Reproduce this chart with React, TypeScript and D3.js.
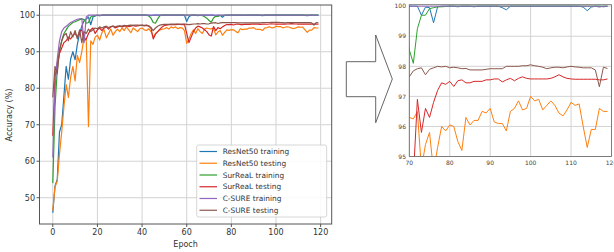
import React, { useRef, useEffect } from 'react';
import * as d3 from 'd3';

const epochs = d3.range(0, 120);

// accuracy per epoch
const resnetTrain = [
  45.9, 53.2, 55, 68, 70, 78, 86, 82.5, 88, 90,
  87.8, 92, 95, 97, 98.5, 99, 99.5, 97.4, 99.5, 99.8,
  100, 99.9, 100, 100, 100, 100, 100, 100, 100, 100,
  100, 100, 100, 100, 100, 100, 100, 100, 100, 100,
  100, 100, 100, 100, 99.9, 100, 100, 100, 100, 100,
  100, 100, 100, 100, 100, 100, 100, 100, 100, 100,
  98.3, 99.6, 100, 100, 100, 99.9, 100, 100, 100, 100,
  100, 100, 100, 99.7, 99.97, 99.95, 99.45, 99.98, 100, 100,
  100, 100, 99.98, 100, 100, 100, 99.98, 100, 100, 100,
  100, 100, 100, 99.95, 99.88, 100, 100, 100, 100, 100,
  100, 100, 100, 100, 100, 100, 100, 100, 100, 100,
  100, 100, 100, 99.97, 99.85, 99.97, 100, 100, 99.98, 100,
];
const resnetTest = [
  46.5, 53, 54.5, 62, 68, 75, 81, 77.5, 83, 86,
  82, 89, 87, 90, 94, 93.5, 69.5, 93, 92, 94,
  94.5, 93.2, 95.2, 96, 93.8, 95, 96.2, 94.5, 95.5, 96.2,
  95.5, 96.5, 95.8, 96.8, 96, 95.2, 96.5, 96, 95.5, 96.3,
  96.5, 96, 95.8, 96.3, 95.5, 94, 95, 95.5, 96, 96.2,
  96.3, 96.6, 96.2, 96.8, 96.5, 96.8, 96.3, 96.6, 96.5, 95.8,
  92.3, 93.5, 95, 96, 95, 96.3, 95.5, 95, 96.2, 96.5,
  96.3, 96.25, 96.5, 94.6, 95.4, 95.8, 94.5, 95.3, 96.0, 95.85,
  96.05, 96.0, 95.5, 95.2, 96.3, 96.05, 96.2, 96.2, 96.5, 96.45,
  96.6, 96.15, 96.1, 96.1, 95.85, 96.5, 96.6, 96.85, 96.55, 96.6,
  97.0, 96.85, 96.9, 96.55, 96.7, 96.85, 96.7, 96.45, 96.35, 96.55,
  96.8, 96.7, 96.75, 96.0, 95.3, 95.9, 95.9, 96.6, 96.5, 96.5,
];
const surrealTrain = [
  54, 75, 85, 90, 93, 95, 96, 97, 97.5, 98,
  98.2, 98.5, 98.8, 99, 98.8, 97.8, 98, 99.5, 99.8, 99.9,
  100, 99.9, 100, 100, 100, 100, 100, 100, 100, 100,
  100, 100, 100, 100, 100, 100, 100, 100, 100, 100,
  100, 100, 100, 99.8, 99.2, 98, 97.8, 99, 99.9, 100,
  100, 100, 100, 100, 100, 100, 100, 100, 100, 100,
  100, 100, 100, 100, 100, 100, 100, 99.9, 99.6, 99.2,
  98.55, 98.1, 99.25, 99.7, 99.7, 99.92, 99.95, 99.98, 99.98, 99.99,
  100, 100, 100, 100, 100, 100, 100, 100, 100, 100,
  100, 100, 100, 100, 100, 100, 100, 100, 100, 100,
  100, 100, 100, 100, 100, 100, 100, 100, 100, 100,
  100, 100, 100, 100, 100, 100, 100, 100, 100, 100,
];
const surrealTest = [
  67, 83, 87, 89.5, 91, 92.5, 93, 94, 93.5, 94.5,
  95, 94, 95.5, 96, 93, 93.5, 95, 96, 96.5, 95,
  96, 96.5, 95.8, 96.5, 96.8, 96.2, 96.8, 97, 96.5, 96.8,
  97, 96.8, 97, 97.1, 96.9, 97, 97.2, 97, 97.1, 97.2,
  97.2, 97.1, 97.2, 97, 96.5, 93.5, 94.8, 95.5, 96.2, 96.8,
  97.2, 97.3, 97.4, 97.4, 97.5, 97.4, 97.5, 97.5, 97.4, 97.5,
  95, 92.5, 94, 95.5, 96.5, 97, 96.8, 96.5, 96, 95.5,
  94.6, 94.3, 96.9, 95.8, 96.6, 96.3, 96.8, 97.2, 97.45, 97.4,
  97.5, 97.33, 97.52, 97.55, 97.45, 97.45, 97.5, 97.5, 97.5, 97.55,
  97.55, 97.58, 97.58, 97.48, 97.55, 97.6, 97.52, 97.6, 97.65, 97.6,
  97.58, 97.58, 97.58, 97.58, 97.58, 97.6, 97.65, 97.72, 97.65, 97.6,
  97.58, 97.57, 97.57, 97.57, 97.57, 97.57, 97.57, 97.55, 97.55, 97.58,
];
const csureTrain = [
  61, 80, 88, 93, 95.5, 96.5, 97, 97.5, 98, 98.3,
  98.6, 98.9, 99, 99.1, 92.5, 99.5, 100, 100, 100, 100,
  100, 100, 100, 100, 100, 100, 100, 100, 100, 100,
  100, 100, 100, 100, 100, 100, 100, 100, 100, 100,
  100, 100, 100, 100, 100, 100, 100, 100, 100, 100,
  100, 100, 100, 100, 100, 100, 100, 100, 100, 100,
  100, 100, 100, 100, 100, 100, 100, 100, 100, 100,
  100, 100, 100, 100, 100, 100, 100, 100, 100, 100,
  100, 100, 100, 100, 100, 100, 100, 100, 100, 100,
  100, 100, 100, 100, 100, 100, 100, 100, 100, 100,
  100, 100, 100, 100, 100, 100, 100, 100, 100, 100,
  100, 100, 100, 100, 100, 100, 100, 99.97, 100, 100,
];
const csureTest = [
  77.5, 86, 84, 90.5, 93, 94.5, 95, 93, 95.5, 94,
  95.8, 93.5, 96, 92.5, 95.5, 95, 96.2, 95.5, 96, 96.5,
  96.3, 96.8, 96.5, 96.8, 97, 96.6, 96.9, 97, 96.8, 97,
  97.1, 97, 97.2, 97.1, 97.2, 97.3, 97.2, 97.3, 97.3, 97.2,
  97.3, 97.2, 97.3, 97.1, 96.6, 95.8, 96.5, 97, 97.3, 97.4,
  97.5, 97.5, 97.5, 97.6, 97.5, 97.6, 97.6, 97.5, 97.6, 97.6,
  97.5, 97.4, 97.5, 97.6, 97.6, 97.7, 97.6, 97.7, 97.7, 97.6,
  97.65, 97.85, 97.92, 97.95, 97.72, 97.9, 97.95, 98.0, 97.98, 98.0,
  97.95, 97.97, 97.95, 97.92, 97.93, 97.88, 97.88, 97.88, 97.88, 97.9,
  97.92, 97.92, 97.92, 97.92, 98.0, 98.0, 98.0, 98.0, 98.02, 98.02,
  98.05, 98.02, 98.0, 97.97, 97.92, 97.95, 97.97, 97.97, 97.95, 97.98,
  98.0, 97.98, 97.97, 97.95, 97.95, 97.95, 97.88, 97.32, 97.97, 97.93,
];

const seriesNames = [
  'ResNet50 training', 'ResNet50 testing', 'SurReaL training',
  'SurReaL testing', 'C-SURE training', 'C-SURE testing',
];
const seriesValues = [resnetTrain, resnetTest, surrealTrain, surrealTest, csureTrain, csureTest];
const colors = ['#1f77b4', '#ff7f0e', '#2ca02c', '#d62728', '#9467bd', '#8c564b'];

const mainXTicks = [0, 20, 40, 60, 80, 100, 120];
const mainYTicks = [50, 60, 70, 80, 90, 100];
const zoomXTicks = [70, 80, 90, 100, 110, 120];
const zoomYTicks = [95, 96, 97, 98, 99, 100];

const font = 'DejaVu Sans, sans-serif';

const App: React.FC = () => {
  const ref = useRef<SVGSVGElement | null>(null);

  useEffect(() => {
    const svg = d3.select(ref.current);
    svg.selectAll('*').remove();

    // ---- main chart
    const x = d3.scaleLinear().domain([-5.95, 124.95]).range([39.5, 331.7]);
    const y = d3.scaleLinear().domain([42.8, 102.8]).range([224, 5]);
    const g = svg.append('g');

    g.selectAll('.gx').data(mainXTicks).enter().append('line')
      .attr('x1', (d) => x(d)).attr('x2', (d) => x(d))
      .attr('y1', 5).attr('y2', 224)
      .attr('stroke', '#d3d3d3').attr('stroke-width', 1);
    g.selectAll('.gy').data(mainYTicks).enter().append('line')
      .attr('x1', 39.5).attr('x2', 331.7)
      .attr('y1', (d) => y(d)).attr('y2', (d) => y(d))
      .attr('stroke', '#d3d3d3').attr('stroke-width', 1);

    const line = d3.line<number>()
      .x((_, i) => x(epochs[i]))
      .y((d) => y(d));
    seriesValues.forEach((vals, k) => {
      g.append('path').datum(vals)
        .attr('fill', 'none').attr('stroke', colors[k])
        .attr('stroke-width', 1.2).attr('stroke-linejoin', 'round')
        .attr('d', line);
    });

    g.append('rect').attr('x', 39.5).attr('y', 5).attr('width', 292.2).attr('height', 219)
      .attr('fill', 'none').attr('stroke', '#555').attr('stroke-width', 1);

    mainXTicks.forEach((t) => {
      g.append('line').attr('x1', x(t)).attr('x2', x(t)).attr('y1', 224).attr('y2', 227)
        .attr('stroke', '#555');
      g.append('text').attr('x', x(t)).attr('y', 234.5).attr('text-anchor', 'middle')
        .attr('font-family', font).attr('font-size', 8).attr('fill', '#333').text(t);
    });
    mainYTicks.forEach((t) => {
      g.append('line').attr('x1', 36.5).attr('x2', 39.5).attr('y1', y(t)).attr('y2', y(t))
        .attr('stroke', '#555');
      g.append('text').attr('x', 35).attr('y', y(t) + 3).attr('text-anchor', 'end')
        .attr('font-family', font).attr('font-size', 8).attr('fill', '#333').text(t);
    });
    g.append('text').attr('x', 185.6).attr('y', 246.5).attr('text-anchor', 'middle')
      .attr('font-family', font).attr('font-size', 8).attr('fill', '#333').text('Epoch');
    g.append('text').attr('transform', 'translate(12,115) rotate(-90)').attr('text-anchor', 'middle')
      .attr('font-family', font).attr('font-size', 8).attr('fill', '#333').text('Accuracy (%)');

    // legend
    const lg = g.append('g');
    lg.append('rect').attr('x', 196.7).attr('y', 145).attr('width', 130).attr('height', 72)
      .attr('rx', 2).attr('fill', 'white').attr('fill-opacity', 0.85)
      .attr('stroke', '#ccc').attr('stroke-width', 0.8);
    seriesNames.forEach((name, k) => {
      const yy = 151.5 + k * 11.75;
      lg.append('line').attr('x1', 199.5).attr('x2', 217).attr('y1', yy).attr('y2', yy)
        .attr('stroke', colors[k]).attr('stroke-width', 1.2);
      lg.append('text').attr('x', 222.7).attr('y', yy + 2.7)
        .attr('font-family', font).attr('font-size', 7.4).attr('fill', '#333').text(name);
    });

    // ---- arrow
    svg.append('polygon')
      .attr('points', '346.3,61.7 375.7,61.7 375.7,35 392.3,79 375.7,122.7 375.7,96.7 346.3,96.7')
      .attr('fill', 'white').attr('stroke', '#555').attr('stroke-width', 0.9);

    // ---- zoomed chart
    const zx = d3.scaleLinear().domain([70, 120]).range([409.3, 611.5]);
    const zy = d3.scaleLinear().domain([95, 100.05]).range([156.5, 4.7]);
    const z = svg.append('g');
    svg.append('clipPath').attr('id', 'zclip').append('rect')
      .attr('x', 409.3).attr('y', 4.7).attr('width', 202.2).attr('height', 151.8);

    z.selectAll('.zgx').data(zoomXTicks).enter().append('line')
      .attr('x1', (d) => zx(d)).attr('x2', (d) => zx(d))
      .attr('y1', 4.7).attr('y2', 156.5)
      .attr('stroke', '#d3d3d3').attr('stroke-width', 1);
    z.selectAll('.zgy').data(zoomYTicks).enter().append('line')
      .attr('x1', 409.3).attr('x2', 611.5)
      .attr('y1', (d) => zy(d)).attr('y2', (d) => zy(d))
      .attr('stroke', '#d3d3d3').attr('stroke-width', 1);

    const zline = d3.line<number>()
      .x((_, i) => zx(epochs[i]))
      .y((d) => zy(d));
    const zg = z.append('g').attr('clip-path', 'url(#zclip)');
    seriesValues.forEach((vals, k) => {
      zg.append('path').datum(vals)
        .attr('fill', 'none').attr('stroke', colors[k])
        .attr('stroke-width', 1).attr('stroke-linejoin', 'round')
        .attr('d', zline);
    });

    z.append('rect').attr('x', 409.3).attr('y', 4.7).attr('width', 202.2).attr('height', 151.8)
      .attr('fill', 'none').attr('stroke', '#666').attr('stroke-width', 0.8);

    zoomXTicks.forEach((t) => {
      z.append('text').attr('x', zx(t)).attr('y', 164.5).attr('text-anchor', 'middle')
        .attr('font-family', font).attr('font-size', 6).attr('fill', '#444').text(t);
    });
    zoomYTicks.forEach((t) => {
      z.append('text').attr('x', 406).attr('y', zy(t) + 2.2).attr('text-anchor', 'end')
        .attr('font-family', font).attr('font-size', 6).attr('fill', '#444').text(t);
    });
  }, []);

  return (
    <div style={{ position: 'absolute', left: 0, top: 0 }}>
      <svg ref={ref} width={614} height={252} style={{ display: 'block', background: 'white' }} />
    </div>
  );
};

export default App;
